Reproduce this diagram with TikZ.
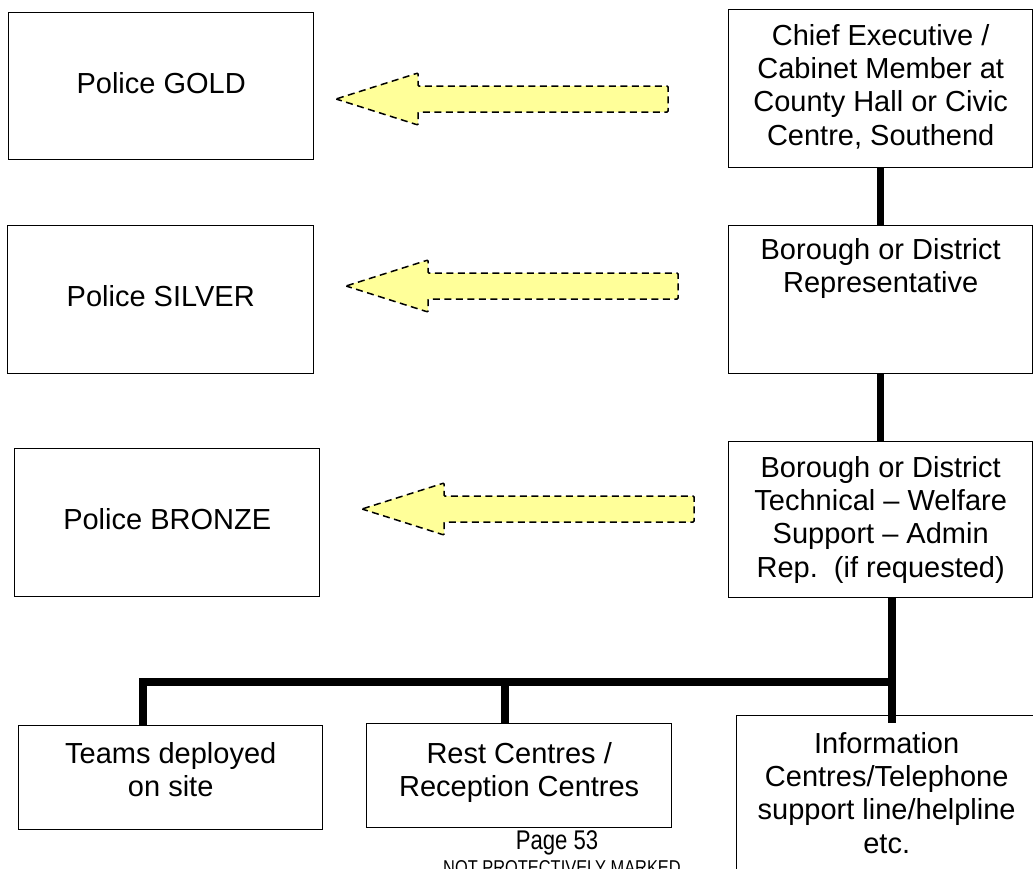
\documentclass[tikz,border=0pt]{standalone}
\usepackage{fontspec}
\usetikzlibrary{calc}
\newfontfamily\arialfont{Liberation Sans}
\newfontfamily\narrowfont[FakeStretch=0.82]{Liberation Sans}
\newcommand\boxfont{\arialfont\fontsize{29}{33.35}\selectfont}
% width, height, top padding, text
\newcommand\boxtxt[4]{\parbox[c][#2][t]{#1}{\centering\vspace*{#3}\strut #4\par}}
\definecolor{arrowyellow}{RGB}{255,255,153}
\tikzset{
  box/.style={draw, line width=1.4pt, inner sep=0pt, anchor=north west, font=\boxfont},
  link/.style={line width=7.5pt, line join=miter},
  flow/.style={fill=arrowyellow, draw=black, line width=1.5pt,
               dash pattern=on 7pt off 4.5pt, rounded corners=1pt},
  flowarrow/.pic={
    \path[flow] (0,0) -- (82,-26) -- (82,-13) -- (332,-13) -- (332,13)
                -- (82,13) -- (82,26) -- cycle;
  },
  footer/.style={inner sep=0pt, anchor=base}
}
\begin{document}
\begin{tikzpicture}[x=1pt,y=-1pt]
\useasboundingbox (0,0) rectangle (1033,868);
\clip (0,0) rectangle (1033,868);

% police command levels
\node[box] (gold)   at (8,12)   {\boxtxt{305pt}{147pt}{57pt}{Police GOLD}};
\node[box] (silver) at (7,225)  {\boxtxt{306pt}{148pt}{57pt}{Police SILVER}};
\node[box] (bronze) at (14,448) {\boxtxt{305pt}{148pt}{57pt}{Police BRONZE}};

% local authority chain
\node[box] (chief) at (728,9)   {\boxtxt{304pt}{158pt}{12pt}{Chief Executive /\\Cabinet Member at\\County Hall or Civic\\Centre, Southend}};
\node[box] (rep)   at (728,225) {\boxtxt{304pt}{148pt}{10pt}{Borough or District\\Representative}};
\node[box] (tech)  at (728,441) {\boxtxt{304pt}{156pt}{12pt}{Borough or District\\Technical – Welfare\\Support – Admin\\Rep.\ \ (if requested)}};

% deployed services
\node[box] (teams) at (18,725)  {\boxtxt{304pt}{104pt}{14pt}{Teams deployed\\on site}};
\node[box] (rest)  at (366,723) {\boxtxt{305pt}{104pt}{16pt}{Rest Centres /\\Reception Centres}};
\node[box] (info)  at (736,715) {\boxtxt{300pt}{160pt}{14pt}{Information\\Centres/Telephone\\support line/helpline\\etc.}};

% liaison arrows
\pic at (336,99)  {flowarrow};
\pic at (346,286) {flowarrow};
\pic at (362,509) {flowarrow};

% connectors
\coordinate (hub)     at (892,682);
\coordinate (lefthub) at (143,682);
\coordinate (midhub)  at (505,682);
\draw[link] (chief.south) -- (rep.north);
\draw[link] (rep.south) -- (tech.north);
\draw[link] (tech.south -| hub) -- ($(info.north -| hub)+(0,8)$);
\draw[link] (hub) -- (lefthub) -- (lefthub |- teams.north);
\draw[link] (midhub) -- (midhub |- rest.north);

% page footer
\node[footer, font=\narrowfont\fontsize{27}{30}\selectfont] (page) at (557,849) {Page 53};
\node[footer, font=\narrowfont\fontsize{20}{24}\selectfont] (mark) at (562,874) {NOT PROTECTIVELY MARKED};
\end{tikzpicture}
\end{document}
